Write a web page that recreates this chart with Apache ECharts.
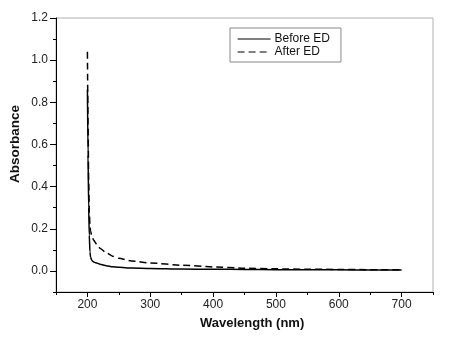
<!DOCTYPE html>
<html>
<head>
<meta charset="utf-8">
<script src="https://cdn.jsdelivr.net/npm/echarts@6/dist/echarts.min.js"></script>
<style>
  html, body { margin: 0; padding: 0; background: #fff; }
  #main { width: 466px; height: 338px; }
</style>
</head>
<body>
<div id="main"></div>
<script>
// 吸光度数据
var wavelength = [200, 201, 202, 203, 204, 205, 207, 210, 215, 220, 230, 240, 250, 270, 300, 350, 400, 450, 500, 550, 600, 650, 700];
var beforeED   = [0.86, 0.55, 0.30, 0.17, 0.09, 0.065, 0.05, 0.042, 0.037, 0.032, 0.025, 0.020, 0.017, 0.014, 0.012, 0.009, 0.008, 0.007, 0.006, 0.005, 0.005, 0.004, 0.004];
var afterED    = [1.04, 0.70, 0.42, 0.28, 0.22, 0.19, 0.165, 0.145, 0.125, 0.108, 0.086, 0.070, 0.060, 0.047, 0.038, 0.027, 0.019, 0.013, 0.010, 0.008, 0.007, 0.006, 0.005];

var xMajorTicks = [200, 300, 400, 500, 600, 700];
var xMinorTicks = [150, 250, 350, 450, 550, 650, 750];
var yMajorTicks = [0, 0.2, 0.4, 0.6, 0.8, 1.0, 1.2];
var yMinorTicks = [-0.1, 0.1, 0.3, 0.5, 0.7, 0.9, 1.1];

function pairs(xs, ys) {
    return xs.map(function (x, i) { return [x, ys[i]]; });
}

var font = 'Liberation Sans, Arial, sans-serif';

option = {
    animation: false,
    backgroundColor: '#fff',
    grid: {
        left: 56, right: 33, top: 18, bottom: 46,
        show: true,
        borderColor: '#b0b0b0',
        borderWidth: 1
    },
    legend: {
        orient: 'vertical',
        left: 230,
        top: 28,
        padding: [5, 11, 4, 7],
        itemWidth: 33,
        itemHeight: 12,
        itemGap: 1,
        borderColor: '#888',
        borderWidth: 1,
        // 只画线, 不画圆点
        itemStyle: { opacity: 0 },
        lineStyle: { width: 1.2 },
        textStyle: { fontFamily: font, fontSize: 12, color: '#111', padding: [0, 0, 0, -1] },
        data: ['Before ED', 'After ED']
    },
    xAxis: [
        {
            type: 'value',
            min: 150,
            max: 750,
            splitLine: { show: false },
            //坐标轴线
            axisLine: { show: true, onZero: false, lineStyle: { color: '#000', width: 1 } },
            axisTick: { show: true, length: 5, customValues: xMajorTicks, lineStyle: { color: '#000' } },
            axisLabel: {
                customValues: xMajorTicks,
                margin: 7,
                fontFamily: font, fontSize: 12, color: '#222'
            }
        },
        {
            type: 'value',
            min: 150,
            max: 750,
            position: 'bottom',
            splitLine: { show: false },
            axisLine: { show: false, onZero: false },
            axisTick: { show: true, length: 3, customValues: xMinorTicks, lineStyle: { color: '#000' } },
            axisLabel: { show: false }
        }
    ],
    yAxis: [
        {
            type: 'value',
            min: -0.1,
            max: 1.2,
            splitLine: { show: false },
            axisLine: { show: true, onZero: false, lineStyle: { color: '#000', width: 1 } },
            axisTick: { show: true, length: 6, customValues: yMajorTicks, lineStyle: { color: '#000' } },
            axisLabel: {
                customValues: yMajorTicks,
                margin: 8,
                fontFamily: font, fontSize: 12, color: '#222',
                formatter: function (v) { return v.toFixed(1); }
            }
        },
        {
            type: 'value',
            min: -0.1,
            max: 1.2,
            position: 'left',
            splitLine: { show: false },
            axisLine: { show: false, onZero: false },
            axisTick: { show: true, length: 3, customValues: yMinorTicks, lineStyle: { color: '#000' } },
            axisLabel: { show: false }
        }
    ],
    graphic: [
        {
            type: 'text',
            left: 200, top: 317,
            style: { text: 'Wavelength (nm)', fontFamily: font, fontSize: 13, fontWeight: 'bold', fill: '#111' }
        },
        {
            type: 'text',
            x: 8, y: 183,
            rotation: Math.PI / 2,
            style: { text: 'Absorbance', fontFamily: font, fontSize: 13.5, fontWeight: 'bold', fill: '#111' }
        }
    ],
    series: [
        {
            name: 'Before ED',
            type: 'line',
            symbol: 'none',
            smooth: 0.2,
            smoothMonotone: 'x',
            color: '#000',
            lineStyle: { color: '#000', width: 1.5, type: 'solid' },
            data: pairs(wavelength, beforeED)
        },
        {
            name: 'After ED',
            type: 'line',
            symbol: 'none',
            smooth: 0.2,
            smoothMonotone: 'x',
            color: '#000',
            lineStyle: { color: '#000', width: 1.5, type: [7, 4] },
            data: pairs(wavelength, afterED)
        }
    ]
};

var chart = echarts.init(document.getElementById('main'));
chart.setOption(option);
</script>
</body>
</html>
